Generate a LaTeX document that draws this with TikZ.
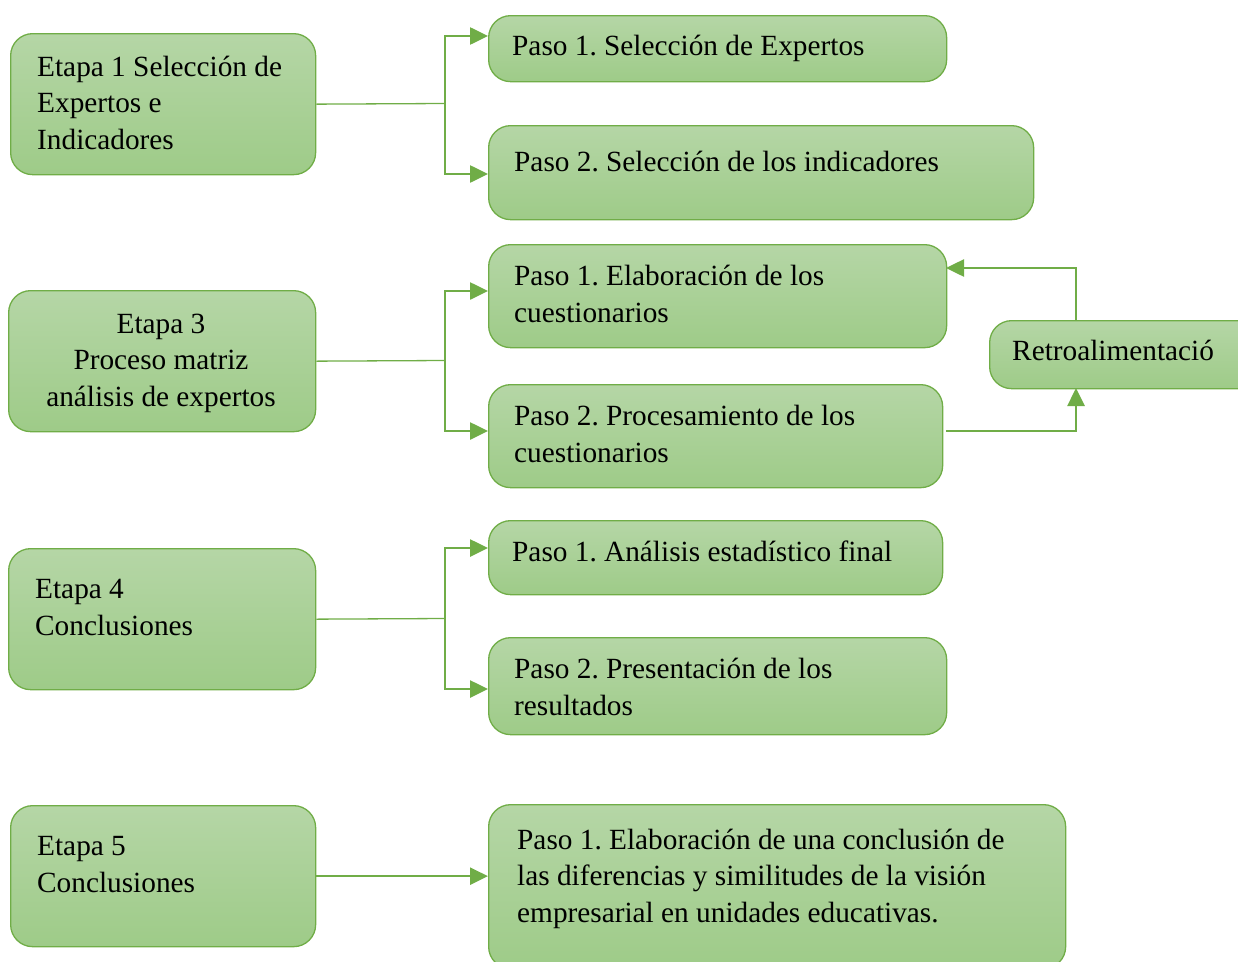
\documentclass[tikz,border=0pt]{standalone}
\usepackage{fontspec}
\setmainfont{Liberation Serif}
\usetikzlibrary{arrows.meta}
\frenchspacing
\definecolor{gtop}{RGB}{181,214,166}
\definecolor{gbot}{RGB}{158,203,136}
\definecolor{gline}{RGB}{112,173,71}
\tikzset{
  box/.style={draw=gline, line width=1.3pt, rounded corners=22pt, top color=gtop, bottom color=gbot, inner sep=0pt, anchor=north west},
  txt/.style={anchor=base west, inner sep=0pt, align=left, font=\fontsize{29.3}{36.5}\selectfont},
  ctxt/.style={anchor=base, inner sep=0pt, align=center, font=\fontsize{29.3}{36.5}\selectfont},
  stem/.style={draw=gline, line width=1.3pt},
  arr/.style={draw=gline, line width=2.6pt, -{Triangle[length=18pt,width=17pt]}}
}
\begin{document}
\begin{tikzpicture}[x=1pt,y=-1pt]
\useasboundingbox (0,0) rectangle (1238,961);
% Etapas
\node[box, minimum width=305pt, minimum height=141pt] (e1) at (10,33) {};
\node[box, minimum width=307pt, minimum height=141pt] (e3) at (8,290) {};
\node[box, minimum width=307pt, minimum height=141pt] (e4) at (8,548) {};
\node[box, minimum width=305pt, minimum height=141pt] (e5) at (10,805) {};
% Pasos
\node[box, minimum width=458pt, minimum height=66pt] (p1a) at (488,15) {};
\node[box, minimum width=545pt, minimum height=94pt] (p2a) at (488,125) {};
\node[box, minimum width=458pt, minimum height=103pt] (p1b) at (488,244) {};
\node[box, minimum width=454pt, minimum height=103pt] (p2b) at (488,384) {};
\node[box, minimum width=301pt, minimum height=68pt] (retro) at (989,320) {};
\node[box, minimum width=454pt, minimum height=74pt] (p1c) at (488,520) {};
\node[box, minimum width=458pt, minimum height=97pt] (p2c) at (488,637) {};
\node[box, minimum width=577pt, minimum height=164pt] (p1d) at (488,804) {};
% Texts (base anchor = last line baseline)
\node[txt] (te1) at (37,149) {Etapa 1 Selección de\\Expertos e\\Indicadores};
\node[ctxt] (te3) at (161,406) {Etapa 3\\Proceso matriz\\análisis de expertos};
\node[txt] (te4) at (35,635) {Etapa 4\\Conclusiones};
\node[txt] (te5) at (37,892) {Etapa 5\\Conclusiones};
\node[txt] (tp1a) at (512,55) {Paso 1. Selección de Expertos};
\node[txt] (tp2a) at (514,171) {Paso 2. Selección de los indicadores};
\node[txt] (tp1b) at (514,322) {Paso 1. Elaboración de los\\cuestionarios};
\node[txt] (tp2b) at (514,462) {Paso 2. Procesamiento de los\\cuestionarios};
\node[txt] (tretro) at (1012,360) {Retroalimentació};
\node[txt] (tp1c) at (512,561) {Paso 1. Análisis estadístico final};
\node[txt] (tp2c) at (514,715) {Paso 2. Presentación de los\\resultados};
\node[txt] (tp1d) at (517,922) {Paso 1. Elaboración de una conclusión de\\las diferencias y similitudes de la visión\\empresarial en unidades educativas.};
% Junctions and arrow ends
\coordinate (j1) at (445,103.5);
\coordinate (a1) at (488,36);
\coordinate (a2) at (488,174);
\coordinate (j2) at (445,360.5);
\coordinate (a3) at (488,291);
\coordinate (a4) at (488,431);
\coordinate (j3) at (445,618.5);
\coordinate (a5) at (488,548);
\coordinate (a6) at (488,689);
\coordinate (f1) at (946,431);
\coordinate (f2) at (1076,388);
\coordinate (f3) at (1076,320);
\coordinate (f4) at (946,268);
% Connectors
\draw[stem] (e1.east) -- (j1);
\draw[arr] (j1) |- (a1);
\draw[arr] (j1) |- (a2);
\draw[stem] (e3.east) -- (j2);
\draw[arr] (j2) |- (a3);
\draw[arr] (j2) |- (a4);
\draw[stem] (e4.east) -- (j3);
\draw[arr] (j3) |- (a5);
\draw[arr] (j3) |- (a6);
\draw[arr] (e5.east) -- (e5.east -| p1d.west);
\draw[arr] (f1) -| (f2);
\draw[arr] (f3) |- (f4);
\end{tikzpicture}
\end{document}
